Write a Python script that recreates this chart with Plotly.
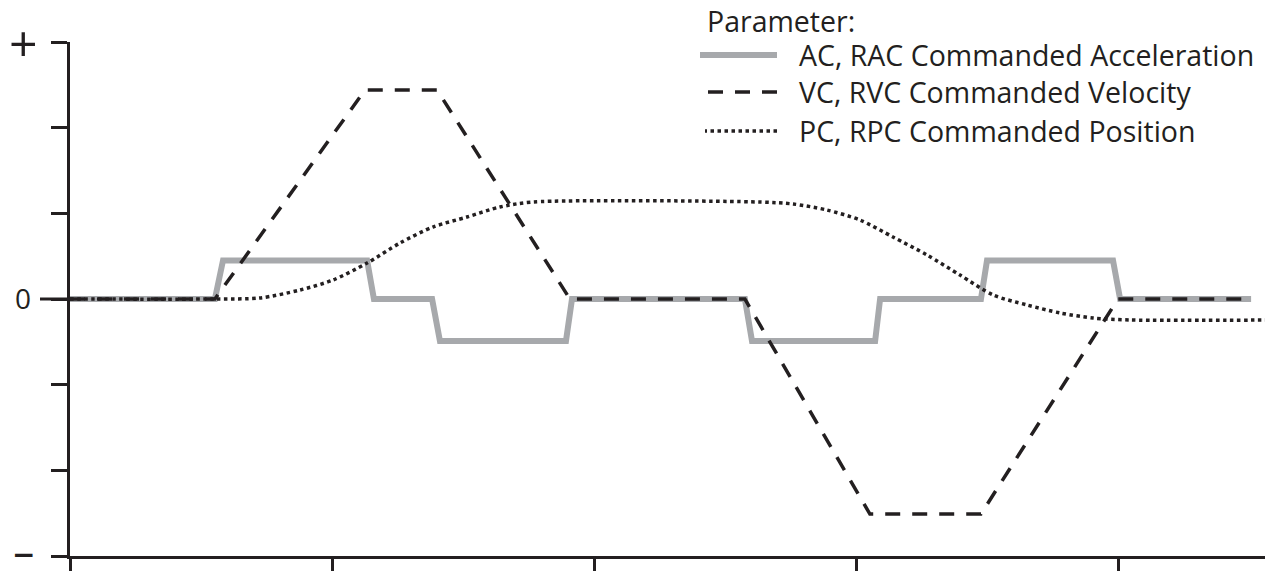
import plotly.graph_objects as go

# ---- data (x: time ticks 0..4, y: scaled units, ticks -3..3) ----
acc_x = [0, 0.553, 0.584, 1.134, 1.160, 1.382, 1.412, 1.893, 1.916, 2.576,
         2.603, 3.073, 3.092, 3.477, 3.500, 3.981, 4.008, 4.508]
acc_y = [0, 0, 0.45, 0.45, 0, 0, -0.49, -0.49, 0, 0,
         -0.49, -0.49, 0, 0, 0.45, 0.45, 0, 0]

vel_x = [0, 0.553, 1.126, 1.401, 1.908, 2.576, 3.053, 3.477, 4.000, 4.508]
vel_y = [0, 0, 2.44, 2.44, 0, 0, -2.51, -2.51, 0, 0]

pos_x = [0, 0.553, 0.725, 0.878, 1.004, 1.134, 1.260, 1.385, 1.515, 1.641,
         1.767, 2.634, 2.760, 2.889, 3.015, 3.141, 3.271, 3.397, 3.523,
         3.653, 3.779, 3.905, 4.046, 4.6]
pos_y = [0, 0, 0.012, 0.105, 0.222, 0.420, 0.654, 0.840, 0.957, 1.074,
         1.132, 1.132, 1.109, 1.039, 0.922, 0.724, 0.514, 0.280, 0.047,
         -0.070, -0.163, -0.222, -0.245, -0.245]

x_ticks = [0, 1, 2, 3, 4]
y_ticks = [-3, -2, -1, 0, 1, 2, 3]
y_labels = {3: "+", 0: "0", -3: "\u2212"}

legend_title = "Parameter:"
legend_names = ["AC, RAC Commanded Acceleration",
                "VC, RVC Commanded Velocity",
                "PC, RPC Commanded Position"]

BLACK = "#231f20"
GRAY = "#a7a9ac"
FONT = "Open Sans"

W, H = 1265, 571
ML, MR, MT, MB = 70, 0, 42, 15
PW, PH = W - ML - MR, H - MT - MB


def px_to_paper(px, py):
    """page pixel -> paper coords"""
    return (px - ML) / PW, (H - MB - py) / PH


fig = go.Figure()
fig.add_trace(go.Scatter(x=acc_x, y=acc_y, mode="lines", name=legend_names[0],
                         line=dict(color=GRAY, width=6), showlegend=False))
fig.add_trace(go.Scatter(x=vel_x, y=vel_y, mode="lines", name=legend_names[1],
                         line=dict(color=BLACK, width=3.5, dash="15px,12px"),
                         showlegend=False))
fig.add_trace(go.Scatter(x=pos_x, y=pos_y, mode="lines", name=legend_names[2],
                         line=dict(color=BLACK, width=3.5, dash="3.5px,3.5px",
                                   shape="spline", smoothing=0.8),
                         showlegend=False))

shapes = []
annotations = []

# longer zero tick on the y axis
x0p, _ = px_to_paper(40, 0)
shapes.append(dict(type="line", xref="paper", yref="y", x0=x0p, x1=0, y0=0, y1=0,
                   line=dict(color=BLACK, width=3)))

# y tick labels
label_fonts = {"+": (FONT, 50, "normal"), "0": (FONT, 28, "normal"),
               "\u2212": ("DejaVu Sans", 28, "bold")}
label_y_px = {"+": 43, "0": 298, "\u2212": 554}
for v, t in y_labels.items():
    xp, yp = px_to_paper(23, label_y_px[t])
    fam, sz, wt = label_fonts[t]
    annotations.append(dict(text=t, x=xp, y=yp, xref="paper", yref="paper",
                            xanchor="center", yanchor="middle", showarrow=False,
                            font=dict(family=fam, size=sz, color=BLACK, weight=wt)))

# legend (manual, to match the long sample lines)
tx, ty = px_to_paper(705, 21)
annotations.append(dict(text=legend_title, x=tx, y=ty, xref="paper", yref="paper",
                        xanchor="left", yanchor="middle", showarrow=False,
                        font=dict(family=FONT, size=28.5, color=BLACK)))
rows = [55, 92, 131]
styles = [dict(color=GRAY, width=6),
          dict(color=BLACK, width=3.5, dash="15px,12px"),
          dict(color=BLACK, width=3.5, dash="3.5px,3.5px")]
starts = [700, 697, 705]
for name, ry, st, sx in zip(legend_names, rows, styles, starts):
    a, b = px_to_paper(777, ry)
    c, _ = px_to_paper(sx, ry)
    shapes.append(dict(type="line", xref="paper", yref="paper",
                       x0=a, x1=c, y0=b, y1=b, line=st))
    lx, _ = px_to_paper(797, ry)
    annotations.append(dict(text=name, x=lx, y=b, xref="paper", yref="paper",
                            xanchor="left", yanchor="middle", showarrow=False,
                            font=dict(family=FONT, size=28.5, color=BLACK)))

fig.update_layout(
    width=W, height=H,
    margin=dict(l=ML, r=MR, t=MT, b=MB),
    paper_bgcolor="white", plot_bgcolor="white",
    shapes=shapes, annotations=annotations,
    xaxis=dict(range=[0, (W - ML) / 262], tickvals=x_ticks, showticklabels=False,
               ticks="outside", ticklen=12, tickwidth=3, tickcolor=BLACK,
               showline=True, linewidth=3, linecolor=BLACK,
               showgrid=False, zeroline=False, fixedrange=True),
    yaxis=dict(range=[-3, 3], tickvals=y_ticks, showticklabels=False,
               ticks="outside", ticklen=16, tickwidth=3, tickcolor=BLACK,
               showline=True, linewidth=3, linecolor=BLACK,
               showgrid=False, zeroline=False, fixedrange=True),
    showlegend=False,
)

fig.write_html("out.html",
               config={"displayModeBar": False},
               post_script="document.body.style.margin='0';"
                           "document.body.style.overflow='hidden';")
